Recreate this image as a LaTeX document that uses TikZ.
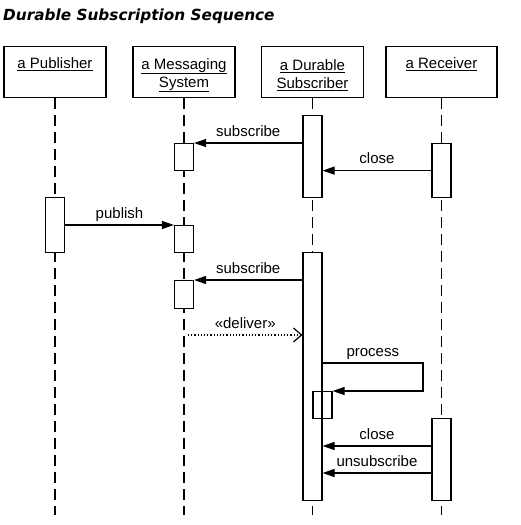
\documentclass[tikz,border=0pt]{standalone}
\usepackage{fontspec}
\setmainfont{Liberation Sans}
\newfontfamily\titlefont{DejaVu Sans}
\usetikzlibrary{arrows.meta}

\begin{document}
\begin{tikzpicture}[x=1pt, y=-1pt,
        every node/.style={font=\fontsize{15}{18}\selectfont},
        head/.style={draw, line width=1.2pt, minimum width=102pt, minimum height=51pt, anchor=north, align=center, inner sep=0pt},
        life/.style={line width=1.3pt, dash pattern=on 11pt off 6pt},
        act/.style={draw, fill=white, line width=1.2pt, minimum width=19pt, anchor=north, inner sep=0pt},
        call/.style={line width=1.2pt, -{Triangle[length=12pt, width=8pt]}},
        reply/.style={line width=1.2pt, dotted, -{Straight Barb[length=8pt, width=14pt]}},
        lbl/.style={anchor=base, yshift=7pt, inner sep=0pt}
    ]
        \useasboundingbox (0,0) rectangle (521,525);

        % Titel
        \node[anchor=west, inner sep=0pt, font=\titlefont\bfseries\itshape\fontsize{15.3}{18}\selectfont] (title) at (3,16) {Durable Subscription Sequence};

        % Objekte und Lebenslinien
        \node[head] (pub) at (55,46) {\rule{0pt}{17pt}\underline{a Publisher}\\\strut};
        \node[head] (msg) at (184,46) {\rule{0pt}{17pt}\underline{a Messaging}\\\underline{System}};
        \node[head] (sub) at (312.5,46) {\rule{0pt}{17pt}\underline{a Durable}\\\underline{Subscriber}};
        \node[head, minimum width=111pt] (rcv) at (441.5,46) {\rule{0pt}{17pt}\underline{a Receiver}\\\strut};
        \coordinate (bottom) at (0,515);
        \foreach \h in {pub,msg,sub,rcv}
            \draw[life] (\h.south) -- (\h.south |- bottom);

        % Aktivierungen
        \node[act, minimum height=82pt] (sub1) at (312.5,115) {};
        \node[act, minimum height=54pt] (rcv1) at (441.5,143) {};
        \node[act, minimum height=27pt] (msg1) at (184,143) {};
        \node[act, minimum height=55pt] (pub1) at (55,197) {};
        \node[act, minimum height=27pt] (msg2) at (184,225) {};
        \node[act, minimum height=248pt] (sub2) at (312.5,252) {};
        \node[act, minimum height=28pt] (msg3) at (184,280) {};
        \node[act, fill=none, minimum height=27pt] (sub3) at (322.5,391) {};
        \node[act, minimum height=82pt] (rcv2) at (441.5,418) {};

        % Nachrichten
        \draw[call] (sub1.west |- msg1.north) -- node[lbl] {subscribe} (msg1.north east);
        \draw[call] (rcv1.west) -- node[lbl] {close} (sub1.east |- rcv1.west);
        \draw[call] (pub1.east |- msg2.north) -- node[lbl] {publish} (msg2.north west);
        \draw[call] (sub2.west |- msg3.north) -- node[lbl] {subscribe} (msg3.north east);
        \coordinate (dlv) at (188,335);
        \draw[reply] (dlv) -- node[lbl] {«deliver»} (sub2.west |- dlv);
        \coordinate (prc) at (423,363);
        \draw[call] (sub2.east |- prc) -- node[lbl] {process} (prc) |- (sub3.north east);
        \coordinate (cls) at (0,446);
        \coordinate (uns) at (0,473);
        \draw[call] (rcv2.west |- cls) -- node[lbl] {close} (sub2.east |- cls);
        \draw[call] (rcv2.west |- uns) -- node[lbl] {unsubscribe} (sub2.east |- uns);
    \end{tikzpicture}
\end{document}
